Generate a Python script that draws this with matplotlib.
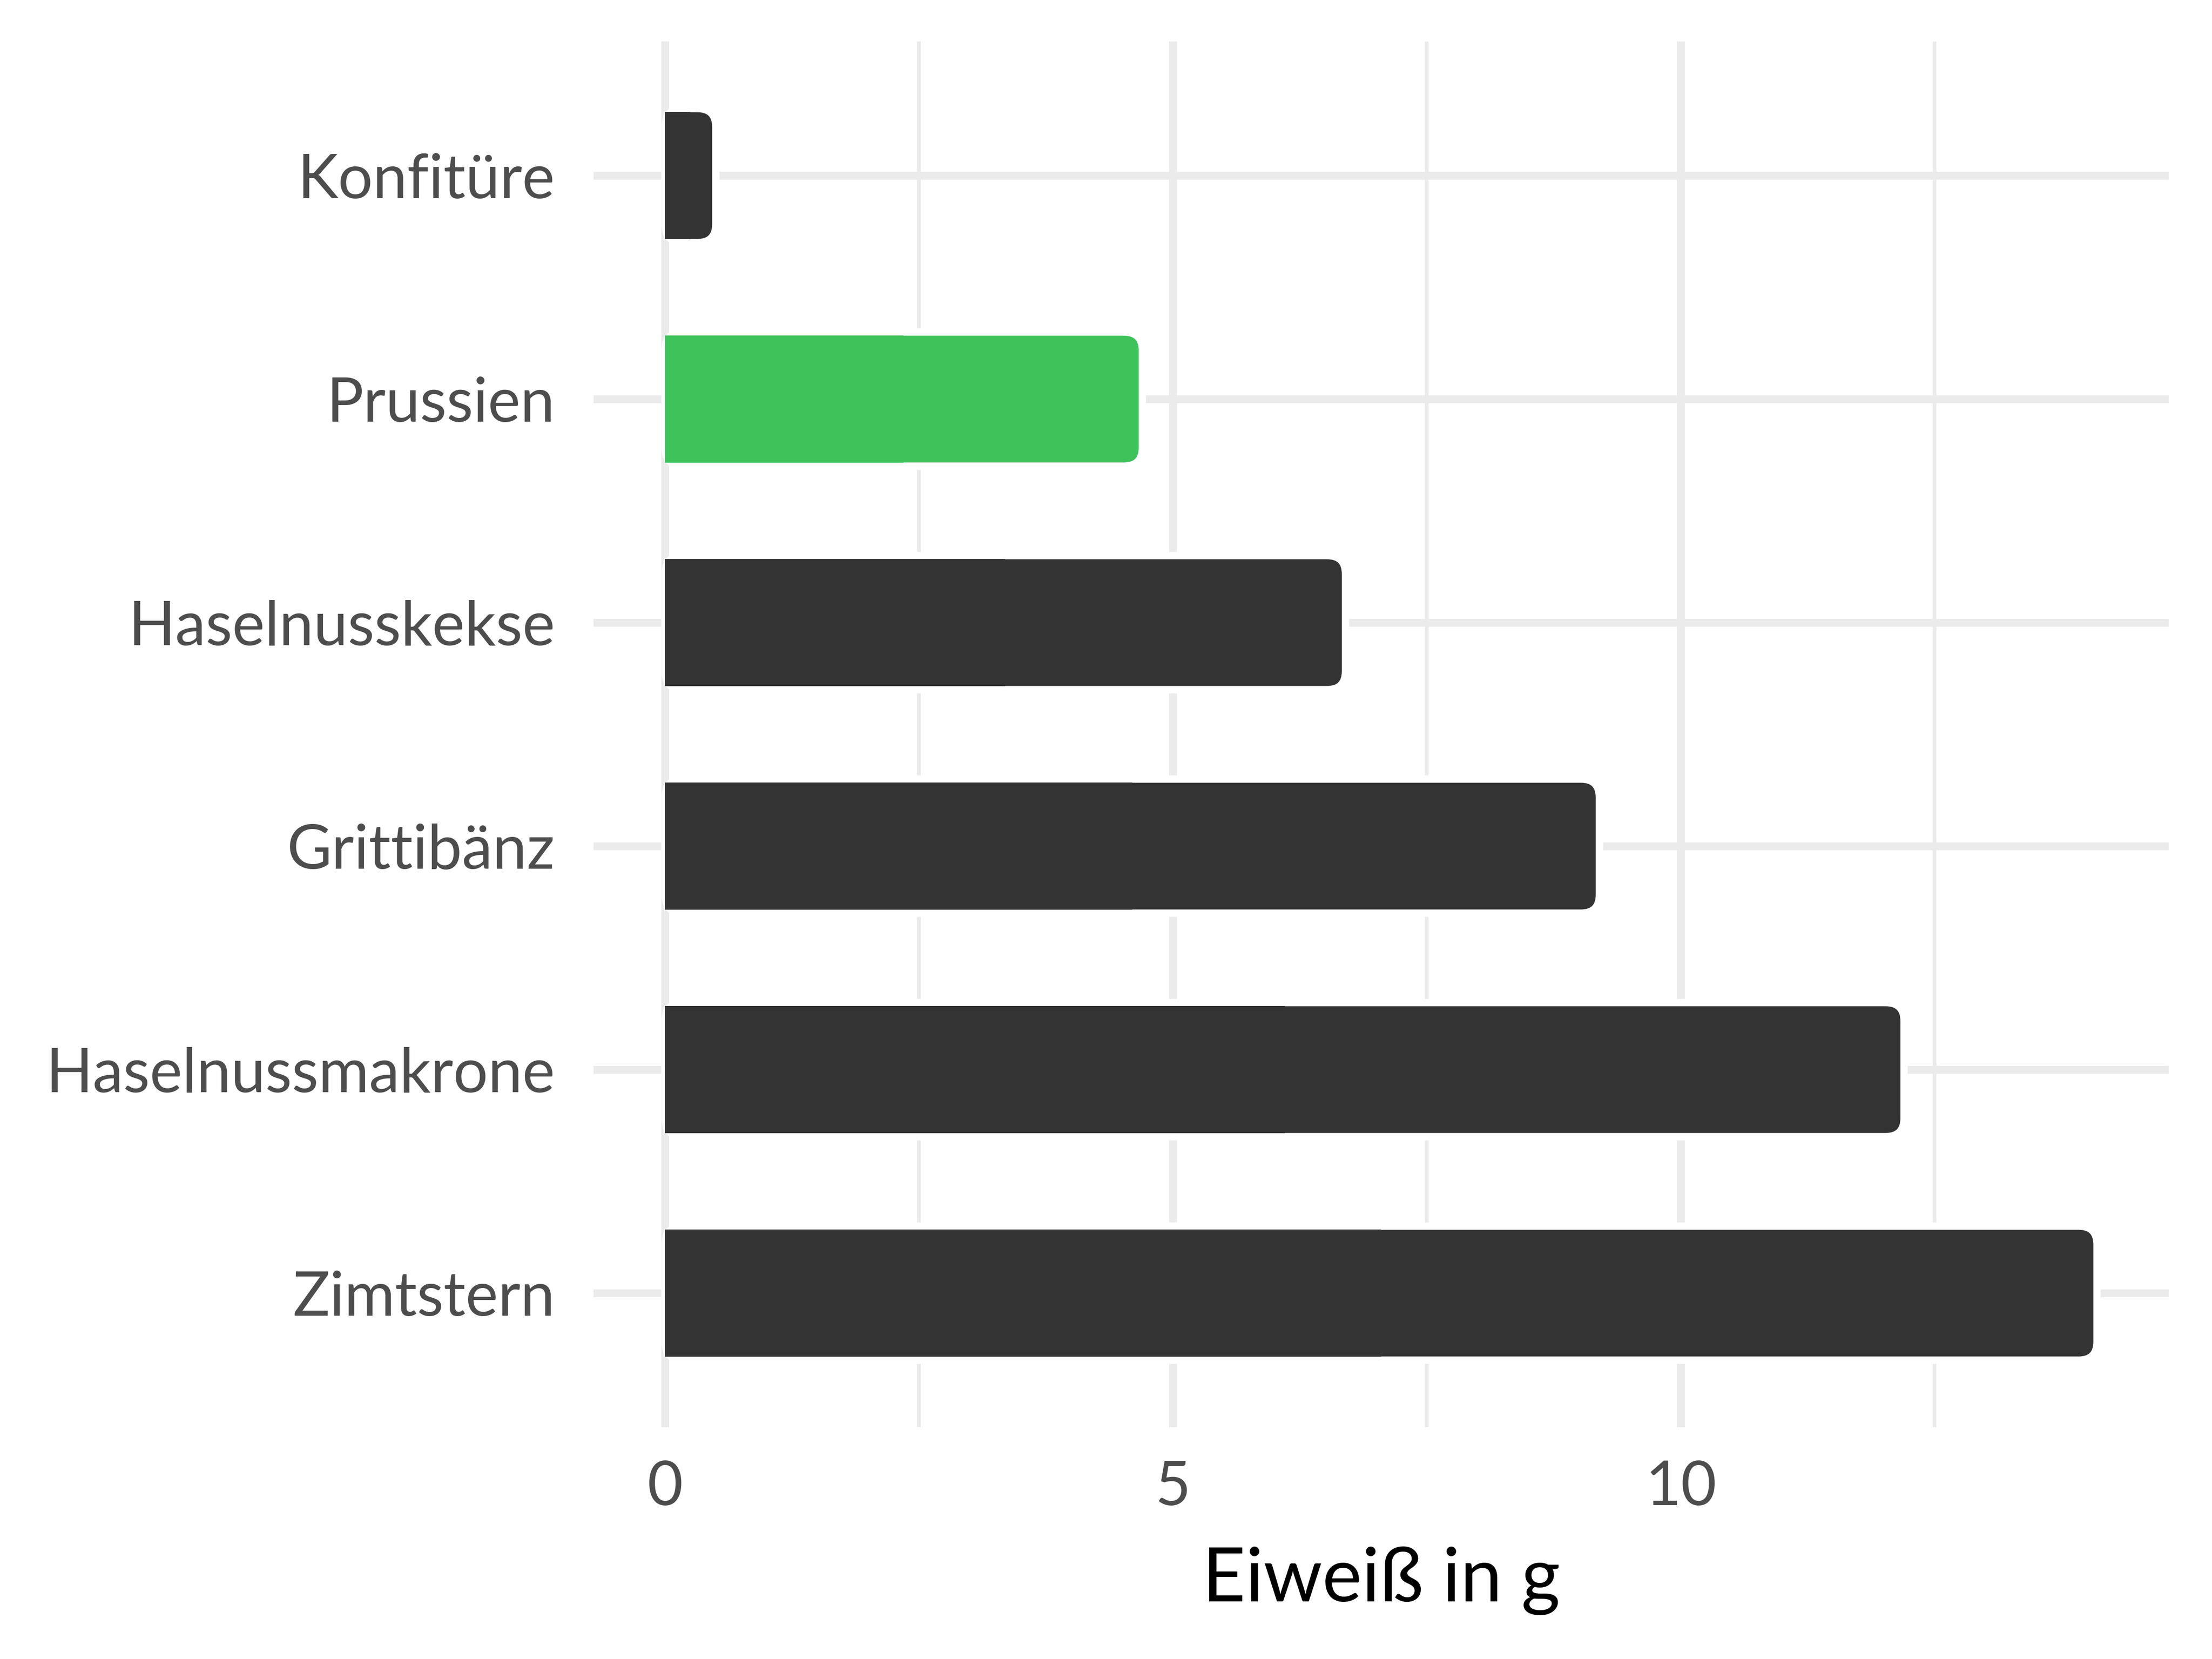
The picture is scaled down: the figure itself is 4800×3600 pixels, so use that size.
import numpy as np
import matplotlib
matplotlib.use("Agg")
import matplotlib.pyplot as plt
from matplotlib.patches import FancyBboxPatch, Rectangle

# data
foods = ["Konfitüre", "Prussien", "Haselnusskekse", "Grittibänz", "Haselnussmakrone", "Zimtstern"]
protein = [0.5, 4.7, 6.7, 9.2, 12.2, 14.1]
highlight = "Prussien"
x_major = [0, 5, 10]
x_minor = [2.5, 7.5, 12.5]
x_title = "Eiweiß in g"

bar_col = "#333333"
hi_col = "#3EC25A"
grid_col = "#EBEBEB"
text_col = "#4D4D4D"

plt.rcParams['font.family'] = ['Lato', 'DejaVu Sans']

W, H, DPI = 16, 12, 300
fig = plt.figure(figsize=(W, H), dpi=DPI)
box = [0.2683, 0.1397, 0.7121, 0.8353]
ax = fig.add_axes(box)

n = len(foods)
ypos = np.arange(n)[::-1]
vmax = max(protein)
ax.set_xlim(-0.05 * vmax, 1.05 * vmax)
ax.set_ylim(-0.6, n - 0.4)

# pixels per data unit, used to keep the rounded corners circular
sx = box[2] * W * DPI / (1.1 * vmax)
sy = box[3] * H * DPI / (n + 0.2)

bh = 0.6
lw_px = 16
rad_px = 40
for y, v, name in zip(ypos, protein, foods):
    col = hi_col if name == highlight else bar_col
    rb = FancyBboxPatch((0, y - bh / 2), v, bh,
                        boxstyle="round,pad=0,rounding_size=%f" % (rad_px / sx),
                        mutation_aspect=sx / sy,
                        fc=col, ec="white", lw=lw_px * 72 / DPI, zorder=3)
    ax.add_patch(rb)
    # square left half, like the reference
    inset = (lw_px / 2 - 0.5) / sy
    ax.add_patch(Rectangle((0, y - bh / 2 + inset), v / 2, bh - 2 * inset,
                           fc=col, ec="none", lw=0, zorder=4))

ax.set_xticks(x_major)
ax.set_xticks(x_minor, minor=True)
ax.set_xticklabels([str(t) for t in x_major])
ax.set_yticks(ypos)
ax.set_yticklabels(foods)

ax.grid(which="major", axis="both", color=grid_col, lw=17 * 72 / DPI)
ax.grid(which="minor", axis="x", color=grid_col, lw=8 * 72 / DPI)
ax.set_axisbelow(True)
for s in ax.spines.values():
    s.set_visible(False)

ax.tick_params(axis="both", which="both", length=0, colors=text_col, labelsize=32)
ax.tick_params(axis="y", pad=20)
ax.tick_params(axis="x", pad=17)
ax.set_xlabel(x_title, fontsize=39, color="black", labelpad=16)

fig.savefig("out.png", dpi=DPI, facecolor="white")
